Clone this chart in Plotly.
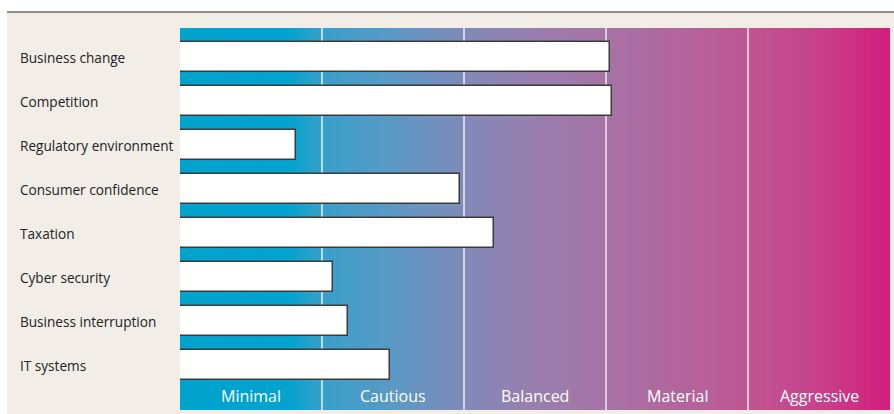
import plotly.graph_objects as go
import numpy as np

categories = ["Business change", "Competition", "Regulatory environment", "Consumer confidence",
              "Taxation", "Cyber security", "Business interruption", "IT systems"]
values = [3.03, 3.04, 0.82, 1.97, 2.21, 1.08, 1.18, 1.48]
zones = ["Minimal", "Cautious", "Balanced", "Material", "Aggressive"]

W, H = 894, 414
L, R, T, B = 180, 4, 28, 4
pw = W - L - R
ph = H - T - B

def px2paper_x(px):
    return (px - L) / pw

def px2paper_y(py):
    return (H - B - py) / ph

ypos = list(range(len(categories)))
# y axis mapping: center of bar i at pixel 57 + 44 i
y_top = (T - 57) / 44
y_bot = (H - B - 57) / 44

fig = go.Figure()
fig.add_trace(go.Bar(
    x=values, y=ypos, orientation="h", base=0,
    width=30 / 44,
    marker=dict(color="white", line=dict(color="#3c3c3c", width=1.5)),
    hoverinfo="skip", showlegend=False,
))

shapes = []
# beige background
shapes.append(dict(type="rect", xref="paper", yref="paper",
                   x0=px2paper_x(7), x1=px2paper_x(894), y0=px2paper_y(414), y1=px2paper_y(12),
                   fillcolor="#f2ede7", line=dict(width=0), layer="below"))
# top rule
shapes.append(dict(type="line", xref="paper", yref="paper",
                   x0=px2paper_x(7), x1=px2paper_x(894), y0=px2paper_y(12), y1=px2paper_y(12),
                   line=dict(color="#6e6e6e", width=1.5)))

# gradient background
stops_px = [180, 288, 322, 400, 464, 530, 606, 700, 748, 820, 890]
stops_rgb = [(0, 163, 204), (0, 163, 206), (55, 160, 202), (95, 152, 196), (128, 138, 185),
             (152, 127, 175), (167, 115, 166), (182, 97, 154), (190, 86, 146), (200, 65, 138),
             (210, 30, 126)]
n = 250
step = 5 / n
for k in range(n):
    x0 = k * step
    x1 = min(x0 + step * 1.3, 5)
    pxc = 180 + (x0 + step / 2) * 142
    rgb = [np.interp(pxc, stops_px, [c[j] for c in stops_rgb]) for j in range(3)]
    col = "rgb(%d,%d,%d)" % tuple(int(round(v)) for v in rgb)
    shapes.append(dict(type="rect", xref="x", yref="paper", x0=x0, x1=x1,
                       y0=0, y1=1, fillcolor=col, line=dict(width=0), layer="below"))

for b in [1, 2, 3, 4]:
    shapes.append(dict(type="line", xref="x", yref="paper", x0=b, x1=b, y0=0, y1=1,
                       line=dict(color="rgba(255,255,255,0.85)", width=1.5), layer="below"))

annotations = []
for i, c in enumerate(categories):
    annotations.append(dict(x=px2paper_x(18), xref="paper", y=i, yref="y", text=c,
                            showarrow=False, xanchor="left", yanchor="middle",
                            font=dict(family="Open Sans", size=13.6, color="#222222")))
for j, z in enumerate(zones):
    annotations.append(dict(x=j + 0.5, xref="x", y=(396 - 57) / 44, yref="y", text=z,
                            showarrow=False, xanchor="center", yanchor="middle",
                            font=dict(family="Open Sans", size=16, color="white")))

fig.update_layout(
    width=W, height=H,
    margin=dict(l=L, r=R, t=T, b=B),
    paper_bgcolor="white", plot_bgcolor="rgba(0,0,0,0)",
    xaxis=dict(range=[0, 5], showgrid=False, zeroline=False, showticklabels=False, fixedrange=True),
    yaxis=dict(range=[y_bot, y_top], showgrid=False, zeroline=False, showticklabels=False, fixedrange=True),
    shapes=shapes, annotations=annotations, bargap=0,
)

fig.write_html("out.html")
